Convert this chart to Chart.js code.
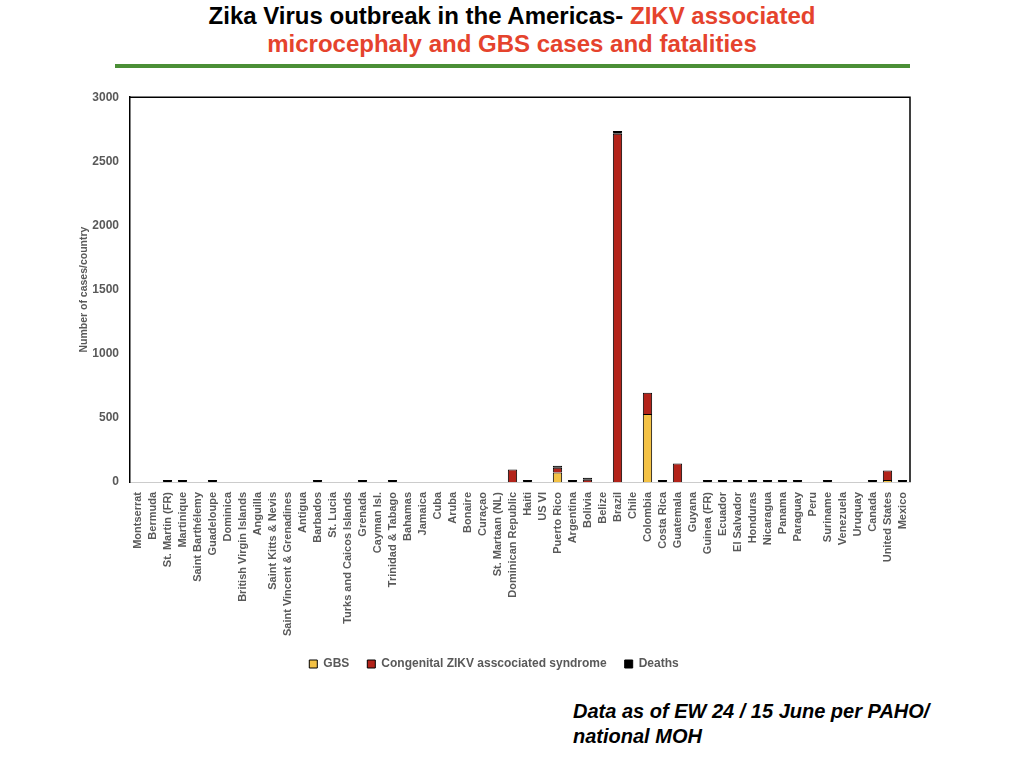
<!DOCTYPE html>
<html lang="en">
<head>
    <meta charset="utf-8">
    <title>Zika Virus outbreak in the Americas</title>
    <script src="https://cdn.jsdelivr.net/npm/chart.js"></script>
    <style>
        html, body { margin: 0; padding: 0; background: #fff; }
        body { width: 1024px; height: 768px; position: relative; overflow: hidden; }
        .title {
            position: absolute; left: 0; top: 2px; width: 1024px;
            text-align: center;
            font-family: "Liberation Sans Narrow", "Liberation Sans", Arial, sans-serif;
            font-weight: bold; font-size: 24px; line-height: 28px; color: #000;
        }
        .title .red { color: #e5432d; }
        .rule {
            position: absolute; left: 115px; top: 64px; width: 795px; height: 4px;
            background: #4b8f36;
        }
        .chart-box { position: absolute; left: 78px; top: 87px; width: 847px; height: 593px; }
        .note {
            position: absolute; left: 573px; top: 699px;
            font-family: "Liberation Sans", Arial, sans-serif;
            font-weight: bold; font-style: italic; font-size: 20px; line-height: 25px; color: #000;
        }
    </style>
</head>
<body>
    <div class="title">
        Zika Virus outbreak in the Americas- <span class="red">ZIKV associated</span><br>
        <span class="red">microcephaly and GBS cases and fatalities</span>
    </div>
    <div class="rule"></div>
    <div class="chart-box">
        <canvas id="zikaChart"></canvas>
    </div>
    <div class="note">Data as of EW 24 / 15 June per PAHO/<br>national MOH</div>

    <script>
        const countries = [
            'Montserrat', 'Bermuda', 'St. Martin (FR)', 'Martinique', 'Saint Barthélemy',
            'Guadeloupe', 'Dominica', 'British Virgin Islands', 'Anguilla', 'Saint Kitts & Nevis',
            'Saint Vincent & Grenadines', 'Antigua', 'Barbados', 'St. Lucia', 'Turks and Caicos Islands',
            'Grenada', 'Cayman Isl.', 'Trinidad & Tabago', 'Bahamas', 'Jamaica',
            'Cuba', 'Aruba', 'Bonaire', 'Curaçao', 'St. Martaan (NL)',
            'Dominican Republic', 'Haiti', 'US VI', 'Puerto Rico', 'Argentina',
            'Bolivia', 'Belize', 'Brazil', 'Chile', 'Colombia',
            'Costa Rica', 'Guatemala', 'Guyana', 'Guinea (FR)', 'Ecuador',
            'El Salvador', 'Honduras', 'Nicaragua', 'Panama', 'Paraguay',
            'Peru', 'Suriname', 'Venezuela', 'Uruquay', 'Canada',
            'United States', 'Mexico'
        ];

        const gbsCases = [
            0, 0, 0, 0, 0,
            0, 0, 0, 0, 0,
            0, 0, 0, 0, 0,
            0, 0, 0, 0, 0,
            0, 0, 0, 0, 0,
            0, 0, 0, 75, 0,
            0, 0, 0, 0, 530,
            0, 0, 0, 0, 0,
            0, 0, 0, 0, 0,
            0, 0, 0, 0, 0,
            15, 0
        ];

        const congenitalCases = [
            0, 0, 0, 0, 0,
            0, 0, 0, 0, 0,
            0, 0, 0, 0, 0,
            0, 0, 0, 0, 0,
            0, 0, 0, 0, 0,
            98, 0, 0, 37, 0,
            18, 0, 2715, 0, 165,
            0, 145, 0, 0, 0,
            0, 0, 0, 0, 0,
            0, 0, 0, 0, 0,
            75, 0
        ];

        const deaths = [
            0, 0, 2, 2, 0,
            2, 0, 0, 0, 0,
            0, 0, 2, 0, 0,
            2, 0, 2, 0, 0,
            0, 0, 0, 0, 0,
            0, 2, 0, 12, 2,
            2, 0, 22, 0, 0,
            2, 0, 0, 2, 2,
            2, 2, 2, 2, 2,
            0, 10, 0, 0, 2,
            0, 2
        ];

        const yTicks = [0, 500, 1000, 1500, 2000, 2500, 3000];

        const grayText = '#595959';
        const fontFamily = '"Liberation Sans", Arial, sans-serif';

        // empty cells are left out so no zero-height border is drawn
        const blankZeros = arr => arr.map(v => (v === 0 ? null : v));

        // top and right edges of the plot frame
        const frameEdges = {
            id: 'frameEdges',
            afterDatasetsDraw(chart) {
                const { ctx, chartArea } = chart;
                ctx.save();
                ctx.strokeStyle = '#000';
                ctx.lineWidth = 1.5;
                ctx.beginPath();
                ctx.moveTo(chartArea.left, chartArea.top);
                ctx.lineTo(chartArea.right, chartArea.top);
                ctx.lineTo(chartArea.right, chartArea.bottom);
                ctx.stroke();
                ctx.restore();
            }
        };

        const ctx = document.getElementById('zikaChart').getContext('2d');
        new Chart(ctx, {
            type: 'bar',
            data: {
                labels: countries,
                datasets: [
                    {
                        label: 'GBS',
                        data: blankZeros(gbsCases),
                        backgroundColor: '#f4c245',
                        borderColor: '#000',
                        borderWidth: 1
                    },
                    {
                        label: 'Congenital ZIKV asscociated syndrome',
                        data: blankZeros(congenitalCases),
                        backgroundColor: '#b3231a',
                        borderColor: '#000',
                        borderWidth: 1
                    },
                    {
                        label: 'Deaths',
                        data: blankZeros(deaths),
                        backgroundColor: '#000',
                        borderColor: '#000',
                        borderWidth: 1,
                        minBarLength: 2
                    }
                ]
            },
            options: {
                responsive: true,
                maintainAspectRatio: false,
                animation: false,
                layout: { padding: { top: 9, right: 15, left: 0, bottom: 0 } },
                datasets: {
                    bar: { categoryPercentage: 1.0, barPercentage: 0.62 }
                },
                plugins: {
                    title: { display: false },
                    tooltip: { enabled: false },
                    legend: {
                        position: 'bottom',
                        labels: {
                            boxWidth: 8,
                            boxHeight: 8,
                            padding: 18,
                            color: grayText,
                            font: { family: fontFamily, weight: 'bold', size: 12 }
                        }
                    }
                },
                scales: {
                    x: {
                        stacked: true,
                        grid: { display: false },
                        border: { display: true, color: '#cccccc', width: 1 },
                        ticks: {
                            autoSkip: false,
                            minRotation: 90,
                            maxRotation: 90,
                            padding: 2,
                            color: grayText,
                            font: { family: fontFamily, weight: 'bold', size: 11 }
                        },
                        afterFit(scale) { scale.height = 158; }
                    },
                    y: {
                        stacked: true,
                        min: 0,
                        max: 3000,
                        afterBuildTicks(scale) {
                            scale.ticks = yTicks.map(v => ({ value: v }));
                        },
                        grid: { display: false },
                        border: { display: true, color: '#000', width: 1.5 },
                        title: {
                            display: true,
                            text: 'Number of cases/country',
                            color: grayText,
                            font: { family: fontFamily, weight: 'bold', size: 10.5 },
                            padding: 0
                        },
                        ticks: {
                            padding: 3,
                            color: grayText,
                            font: { family: fontFamily, weight: 'bold', size: 12 },
                            callback: v => String(v)
                        },
                        afterFit(scale) { scale.width = 52; }
                    }
                }
            },
            plugins: [frameEdges]
        });
    </script>
</body>
</html>
